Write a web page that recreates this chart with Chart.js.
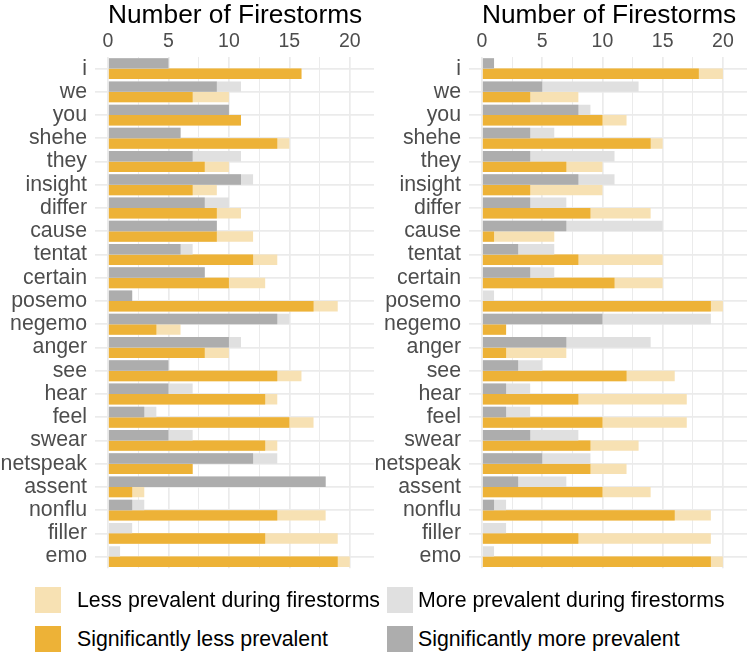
<!DOCTYPE html>
<html lang="en">
<head>
    <meta charset="UTF-8">
    <title>Number of Firestorms</title>
    <style>
        body { margin: 0; background: #fff; font-family: "Liberation Sans", Arial, sans-serif; }
        .wrap { position: relative; width: 747px; height: 653px; overflow: hidden; }
        .panel { position: absolute; top: 0; }
        .key { position: absolute; width: 26px; height: 26px; }
        .lab { position: absolute; font-size: 21.3px; line-height: 26px; color: #000; white-space: nowrap; }
    </style>
</head>
<body>
    <div class="wrap">
        <!-- canvas is taller than the panel: chart.js keeps some room under the last label -->
        <div class="panel" style="left:0"><canvas id="leftChart" width="374" height="589"></canvas></div>
        <div class="panel" style="left:374px"><canvas id="rightChart" width="373" height="589"></canvas></div>

        <!-- legend, 2 x 2 like the original -->
        <div class="key" style="left:35px; top:587px; background:#f7e1b3"></div>
        <div class="lab" style="left:77px; top:587px">Less prevalent during firestorms</div>
        <div class="key" style="left:387px; top:587px; background:#e0e0e0"></div>
        <div class="lab" style="left:418px; top:587px">More prevalent during firestorms</div>
        <div class="key" style="left:35px; top:626px; background:#edb237"></div>
        <div class="lab" style="left:77px; top:626px">Significantly less prevalent</div>
        <div class="key" style="left:387px; top:626px; background:#adadad"></div>
        <div class="lab" style="left:418px; top:626px">Significantly more prevalent</div>
    </div>

    <script src="https://cdn.jsdelivr.net/npm/chart.js"></script>
    <script>
        const categories = ['i', 'we', 'you', 'shehe', 'they', 'insight', 'differ', 'cause', 'tentat', 'certain',
            'posemo', 'negemo', 'anger', 'see', 'hear', 'feel', 'swear', 'netspeak', 'assent', 'nonflu', 'filler', 'emo'];
        const xTicks = [0, 5, 10, 15, 20];

        // left panel: counts per category
        const leftMoreSig = [5, 9, 10, 6, 7, 11, 8, 9, 6, 8, 2, 14, 10, 5, 5, 3, 5, 12, 18, 2, 0, 0];
        const leftMoreAll = [5, 11, 10, 6, 11, 12, 10, 9, 7, 8, 2, 15, 11, 5, 7, 4, 7, 14, 18, 3, 2, 1];
        const leftLessSig = [16, 7, 11, 14, 8, 7, 9, 9, 12, 10, 17, 4, 8, 14, 13, 15, 13, 7, 2, 14, 13, 19];
        const leftLessAll = [16, 10, 11, 15, 10, 9, 11, 12, 14, 13, 19, 6, 10, 16, 14, 17, 14, 7, 3, 18, 19, 20];

        // right panel
        const rightMoreSig = [1, 5, 8, 4, 4, 8, 4, 7, 3, 4, 0, 10, 7, 3, 2, 2, 4, 5, 3, 1, 0, 0];
        const rightMoreAll = [1, 13, 9, 6, 11, 11, 7, 15, 6, 6, 1, 19, 14, 5, 4, 4, 8, 9, 7, 2, 2, 1];
        const rightLessSig = [18, 4, 10, 14, 7, 4, 9, 1, 8, 11, 19, 2, 2, 12, 8, 10, 9, 9, 10, 16, 8, 19];
        const rightLessAll = [20, 8, 12, 15, 10, 10, 14, 6, 15, 15, 20, 2, 7, 16, 17, 17, 13, 12, 14, 19, 19, 20];

        const FONT = '"Liberation Sans", Arial, sans-serif';
        const GRID = '#ebebeb';

        function makeChart(id, moreSig, moreAll, lessSig, lessAll) {
            const ctx = document.getElementById(id).getContext('2d');
            return new Chart(ctx, {
                type: 'bar',
                data: {
                    labels: categories,
                    datasets: [
                        // first dataset is drawn on top, so dark bars go first in each stack
                        { data: moreSig, backgroundColor: '#adadad', stack: 'more' },
                        { data: moreAll, backgroundColor: '#e0e0e0', stack: 'more' },
                        { data: lessSig, backgroundColor: '#edb237', stack: 'less' },
                        { data: lessAll, backgroundColor: '#f7e1b3', stack: 'less' }
                    ]
                },
                options: {
                    indexAxis: 'y',
                    responsive: false,
                    animation: false,
                    layout: { padding: 0 },
                    categoryPercentage: 0.9,
                    barPercentage: 1.0,
                    plugins: { legend: { display: false }, tooltip: { enabled: false } },
                    scales: {
                        x: {
                            position: 'top',
                            stacked: false,
                            min: 0,
                            max: 22,
                            afterFit: s => { s.height = 57; },
                            border: { display: false },
                            grid: {
                                color: GRID,
                                drawTicks: false,
                                lineWidth: c => {
                                    const v = c.tick ? c.tick.value : 0;
                                    if (v > 20) return 0;
                                    return xTicks.includes(v) ? 1.7 : 1.0;
                                }
                            },
                            ticks: {
                                stepSize: 2.5,
                                includeBounds: false,
                                autoSkip: false,
                                maxRotation: 0,
                                padding: 4,
                                color: '#4d4d4d',
                                font: { family: FONT, size: 19.5 },
                                callback: v => xTicks.includes(v) ? v : ''
                            },
                            title: {
                                display: true,
                                text: 'Number of Firestorms',
                                align: 'start',
                                color: '#000',
                                padding: { top: 0, bottom: 0 },
                                font: { family: FONT, size: 26.3 }
                            }
                        },
                        y: {
                            stacked: true,
                            afterFit: s => { s.width = 108; },
                            border: { display: false },
                            grid: { color: GRID, lineWidth: 1.7, offset: false, tickLength: 13 },
                            ticks: {
                                autoSkip: false,
                                padding: 8,
                                color: '#4d4d4d',
                                font: { family: FONT, size: 21.3 }
                            }
                        }
                    }
                }
            });
        }

        makeChart('leftChart', leftMoreSig, leftMoreAll, leftLessSig, leftLessAll);
        makeChart('rightChart', rightMoreSig, rightMoreAll, rightLessSig, rightLessAll);
    </script>
</body>
</html>
